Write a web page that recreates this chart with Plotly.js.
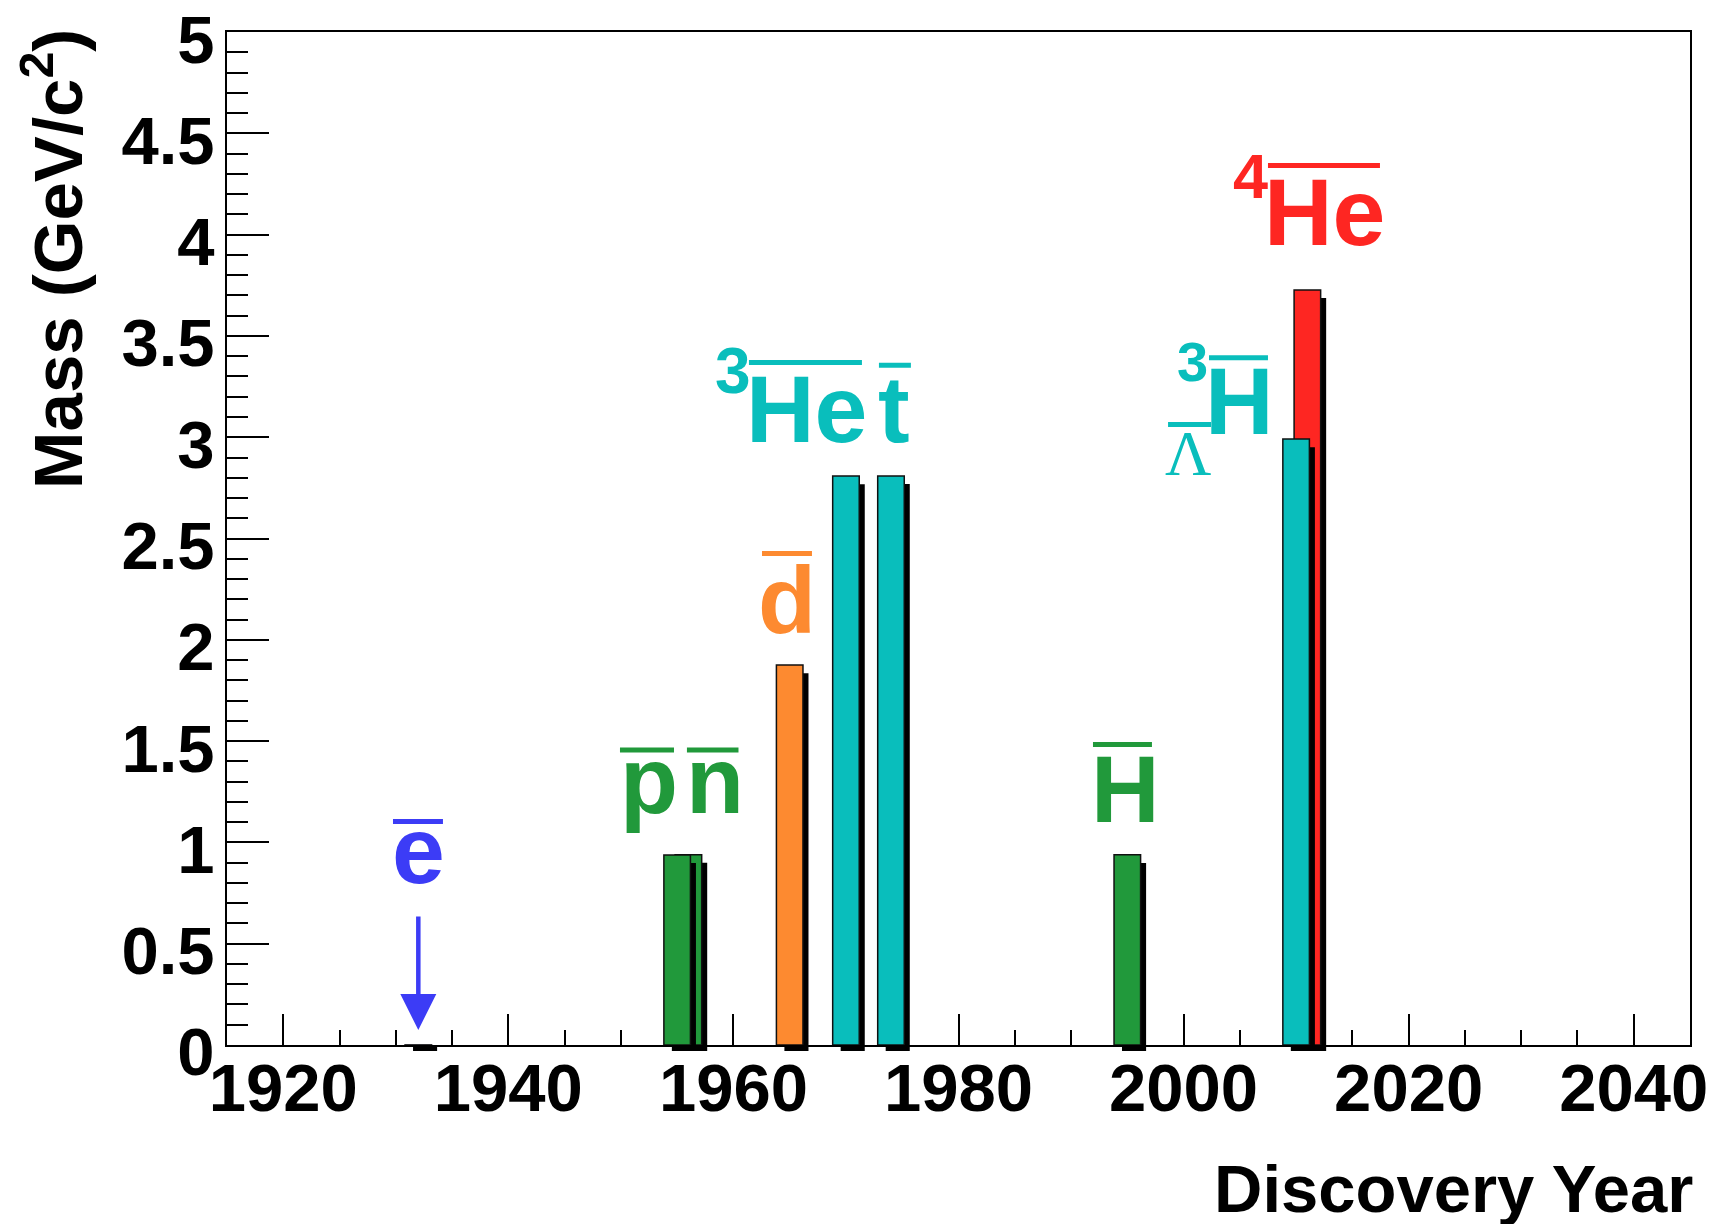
<!DOCTYPE html>
<html>
<head>
<meta charset="utf-8">
<script src="https://cdn.plot.ly/plotly-3.0.1.min.js"></script>
<style>
  html, body { margin: 0; padding: 0; background: #ffffff; }
  #chart { width: 1722px; height: 1224px; }
</style>
</head>
<body>
<div id="chart"></div>
<script>
// Antiparticles and antinuclei: year of first observation and mass (GeV/c^2).
// Listed in drawing order (later entries are painted on top of earlier ones).
const particles = ['antielectron', 'antineutron', 'antiproton', 'antideuteron', 'antihelium3',
                   'antitriton', 'antihydrogen', 'antihelium4', 'antihypertriton'];
const years  = [1932, 1956, 1955, 1965, 1970, 1974, 1995, 2011, 2010];
const masses = [0.000511, 0.9396, 0.9383, 1.8756, 2.8084, 2.8089, 0.9388, 3.7274, 2.9912];

const BLUE = '#3c3cf6', GREEN = '#21993b', ORANGE = '#fd8a30', CYAN = '#09bebc', RED = '#fe2622';
const barColors = [BLUE, GREEN, GREEN, ORANGE, CYAN, CYAN, GREEN, RED, CYAN];

// Axis tick values and labels
const xTickVals = [1920, 1940, 1960, 1980, 2000, 2020, 2040];
const yTickVals = [0, 0.5, 1, 1.5, 2, 2.5, 3, 3.5, 4, 4.5, 5];
const yTickText = ['0', '0.5', '1', '1.5', '2', '2.5', '3', '3.5', '4', '4.5', '5'];

// Symbol labels: main text, centre position (year, GeV) and colour
const labelText  = ['e', 'p', 'n', 'd', 'He', 't', 'H', 'H', 'He'];
const labelX     = [1932.0, 1952.5, 1958.36, 1964.8, 1966.45, 1974.31, 1994.88, 2005.0, 2012.5];
const labelY     = [0.962, 1.308, 1.308, 2.196, 3.139, 3.139, 1.266, 3.179, 4.114];
const labelColor = [BLUE, GREEN, GREEN, ORANGE, CYAN, CYAN, GREEN, CYAN, RED];

// Mass-number superscripts
const supText  = ['3', '3', '4'];
const supX     = [1959.95, 2000.79, 2005.99];
const supY     = [3.329, 3.376, 4.292];
const supSize  = [64, 56, 63];
const supColor = [CYAN, CYAN, RED];

// Bars over the symbols: [x0, x1, y] in data units
const overX0 = [1929.75, 1949.92, 1955.87, 1962.54, 1961.38, 1972.93, 1991.95, 2002.26, 1998.62, 2007.50];
const overX1 = [1934.19, 1954.72, 1960.45, 1966.98, 1971.42, 1975.77, 1997.19, 2007.50, 2002.44, 2017.45];
const overY  = [1.103, 1.456, 1.456, 2.426, 3.369, 3.356, 1.483, 3.393, 3.063, 4.341];
const overC  = [BLUE, GREEN, GREEN, ORANGE, CYAN, CYAN, GREEN, CYAN, CYAN, RED];

const BAR_W = 2.36;          // bar width in years
const SH_L = 0.71, SH_R = 0.49, SH_DROP = 0.04;  // drop-shadow geometry

const traces = [];
const shapes = [];
particles.forEach(function (name, i) {
  // drop shadow behind the bar
  traces.push({
    type: 'bar', name: name + ' shadow', x: [years[i]], y: [Math.max(masses[i] - SH_DROP, 0)],
    width: [BAR_W - SH_L + SH_R], offset: [-BAR_W / 2 + SH_L],
    marker: { color: '#000000', line: { width: 0 } }, hoverinfo: 'skip'
  });
  traces.push({
    type: 'bar', name: name, x: [years[i]], y: [masses[i]],
    width: [BAR_W], offset: [-BAR_W / 2],
    marker: { color: barColors[i], line: { color: '#111111', width: 1.5 } }
  });
  // part of the shadow that falls below the frame
  shapes.push({
    type: 'rect', xref: 'x', yref: 'paper', ysizemode: 'pixel', yanchor: 0,
    x0: years[i] - BAR_W / 2 + SH_L, x1: years[i] + BAR_W / 2 + SH_R, y0: -6, y1: 0,
    fillcolor: '#000000', line: { width: 0 }, layer: 'above'
  });
});

overX0.forEach(function (x0, i) {
  shapes.push({
    type: 'line', xref: 'x', yref: 'y', x0: x0, x1: overX1[i], y0: overY[i], y1: overY[i],
    line: { color: overC[i], width: 5 }, layer: 'above'
  });
});

const boldFont = 'Liberation Sans, Arial, Helvetica, sans-serif';
const annotations = [];
labelText.forEach(function (t, i) {
  annotations.push({
    text: t, x: labelX[i], y: labelY[i], xref: 'x', yref: 'y', showarrow: false,
    xanchor: 'center', yanchor: 'middle',
    font: { family: boldFont, size: 95, weight: 'bold', color: labelColor[i] }
  });
});
supText.forEach(function (t, i) {
  annotations.push({
    text: t, x: supX[i], y: supY[i], xref: 'x', yref: 'y', showarrow: false,
    xanchor: 'center', yanchor: 'middle',
    font: { family: boldFont, size: supSize[i], weight: 'bold', color: supColor[i] }
  });
});
// Lambda subscript of the hypertriton
annotations.push({
  text: 'Λ', x: 2000.39, y: 2.92, xref: 'x', yref: 'y', showarrow: false,
  xanchor: 'center', yanchor: 'middle',
  font: { family: 'Liberation Serif, Times New Roman, serif', size: 64, color: CYAN }
});
// arrow pointing at the (almost massless) positron
annotations.push({
  text: '', x: years[0], y: 0.074, xref: 'x', yref: 'y', ax: 0, ay: -115,
  showarrow: true, arrowhead: 2, arrowsize: 1.6, arrowwidth: 4.5, arrowcolor: BLUE, standoff: 0
});
// axis titles
annotations.push({
  text: 'Mass (GeV/c<sup>2</sup>)', textangle: -90, xref: 'paper', yref: 'paper',
  x: -0.0875, y: 1.005, xanchor: 'right', yanchor: 'top', showarrow: false,
  font: { family: boldFont, size: 69, weight: 'bold', color: '#000000' }
});
annotations.push({
  text: 'Discovery Year', xref: 'paper', yref: 'paper',
  x: 1.0034, y: -0.1415, xanchor: 'right', yanchor: 'middle', showarrow: false,
  font: { family: boldFont, size: 67, weight: 'bold', color: '#000000' }
});

const axisCommon = {
  showgrid: false, zeroline: false, showline: true, linewidth: 2, linecolor: '#000000',
  mirror: true, ticks: 'inside', tickwidth: 2, tickcolor: '#000000',
  tickfont: { family: boldFont, size: 67, weight: 'bold', color: '#000000' },
  layer: 'below traces', fixedrange: true
};

const layout = {
  width: 1722, height: 1224,
  margin: { l: 227, r: 32, t: 32, b: 179, pad: 0 },
  paper_bgcolor: '#ffffff', plot_bgcolor: '#ffffff',
  showlegend: false, barmode: 'overlay',
  xaxis: Object.assign({}, axisCommon, {
    range: [1915, 2045], tickmode: 'array', tickvals: xTickVals, ticklen: 31,
    ticklabelstandoff: -16,
    minor: { ticks: 'inside', tick0: 1920, dtick: 5, ticklen: 15, tickwidth: 2, tickcolor: '#000000', showgrid: false }
  }),
  yaxis: Object.assign({}, axisCommon, {
    range: [0, 5.0005], tickmode: 'array', tickvals: yTickVals, ticktext: yTickText, ticklen: 42,
    ticklabelshift: 7, ticklabelstandoff: -3,
    minor: { ticks: 'inside', tick0: 0, dtick: 0.1, ticklen: 21, tickwidth: 2, tickcolor: '#000000', showgrid: false }
  }),
  annotations: annotations,
  shapes: shapes
};

Plotly.newPlot('chart', traces, layout, { staticPlot: true, displayModeBar: false });
</script>
</body>
</html>
